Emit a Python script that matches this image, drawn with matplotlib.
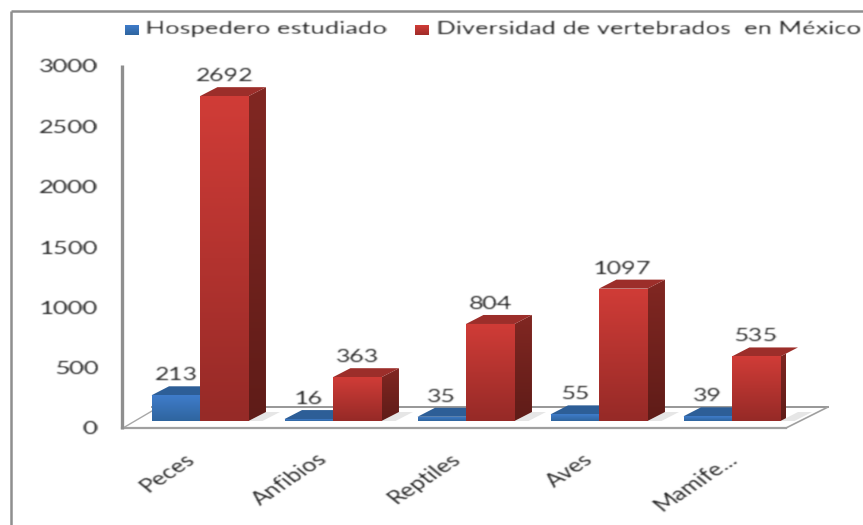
import numpy as np
import matplotlib
matplotlib.use("Agg")
import matplotlib.pyplot as plt
from matplotlib.colors import LinearSegmentedColormap
from matplotlib.patches import Polygon, Rectangle
from matplotlib.transforms import IdentityTransform, ScaledTranslation

categories = ["Peces", "Anfibios", "Reptiles", "Aves", "Mamife..."]
hospedero = [213, 16, 35, 55, 39]
diversidad = [2692, 363, 804, 1097, 535]
series_names = ["Hospedero estudiado", "Diversidad de vertebrados  en México"]
y_ticks = [0, 500, 1000, 1500, 2000, 2500, 3000]

W, H = 863, 525
DX, DY = 17.5, 9.0
TEXT = "#1e1e1e"
GRAY = "#8f8f8f"
plt.rcParams["font.family"] = ["Lato", "DejaVu Sans"]


def stretch(s, anchor="center", blur=0.35):
    """Widen the drawn text horizontally and soften it, as in the reference."""
    def f(img, dpi):
        h, w, _ = img.shape
        nw = max(int(round(w * s)), 1)
        xs = np.clip((np.arange(nw) + 0.5) / s - 0.5, 0, w - 1)
        i0 = np.floor(xs).astype(int)
        i1 = np.minimum(i0 + 1, w - 1)
        t = (xs - i0)[None, :, None]
        out = img[:, i0] * (1 - t) + img[:, i1] * t
        pad = 2
        out = np.pad(out, ((pad, pad), (pad, pad), (0, 0)))
        k = np.array([blur, 1.0, blur])
        k /= k.sum()
        out = np.apply_along_axis(lambda v: np.convolve(v, k, mode="same"), 0, out)
        out = np.apply_along_axis(lambda v: np.convolve(v, k, mode="same"), 1, out)
        ox = -(nw - w) if anchor == "right" else -(nw - w) // 2
        return np.clip(out, 0, 1), int(ox) - pad, -pad
    return f


fig = plt.figure(figsize=(W / 100, H / 100), dpi=100, facecolor="white")

# pixel-space layer for frame, floor and legend keys
bg = fig.add_axes([0, 0, 1, 1], zorder=0)
bg.set_xlim(0, W)
bg.set_ylim(H, 0)
bg.axis("off")

bg.plot([11, 11], [H, 11], color=GRAY, lw=1.8, solid_capstyle="butt")
bg.plot([11, W], [11, 11], color=GRAY, lw=1.8, solid_capstyle="butt")

bg.add_patch(Polygon([(122, 428), (152, 407), (828, 407), (786, 428)], closed=True,
                     facecolor="white", edgecolor="none"))
bg.plot([152, 828], [407, 407], color=GRAY, lw=1.3)
bg.plot([123, 152], [428, 411], color="#a8a8a8", lw=1.0)
bg.plot([786, 828], [428, 407], color="#a0a0a0", lw=1.2)
bg.plot([122, 786], [428, 428], color="#a0a0a0", lw=1.6)
bg.plot([122, 122], [65, 429], color=GRAY, lw=2.4, solid_capstyle="butt")

# main data axes: value 0 is the bar base plane
ax = fig.add_axes([122 / W, (H - 421) / H, (786 - 122) / W, 362 / H], zorder=1)
ax.patch.set_alpha(0)
for sp in ax.spines.values():
    sp.set_visible(False)
XLIM = ((122 - 200) / 133, (786 - 200) / 133)
YLIM = (0, 3000)
ax.set_xlim(*XLIM)
ax.set_ylim(*YLIM)

x = np.arange(len(categories))
width = 0.365
offset = 0.182


def grad(top, bottom):
    return LinearSegmentedColormap.from_list("g", [top, bottom])


G = np.linspace(0, 1, 64)[:, None]


def gradient_poly(verts, top, bottom, z):
    verts = np.asarray(verts, float)
    inv = ax.transData.inverted()
    (x0, y0), (x1, y1) = inv.transform([verts.min(axis=0), verts.max(axis=0)])
    im = ax.imshow(G, cmap=grad(top, bottom), extent=(x0, x1, y0, y1), origin="upper",
                   aspect="auto", zorder=z, interpolation="bilinear")
    poly = Polygon(verts, closed=True, transform=IdentityTransform())
    im.set_clip_path(poly)


def draw_series(xs, vals, front_top, front_bot, top_col, side_top, side_bot, base_z):
    bars = ax.bar(xs, vals, width, color=front_bot, linewidth=0, zorder=base_z + 0.5)
    for i, (bar, v) in enumerate(zip(bars, vals)):
        z = base_z + i * 3
        bar.set_zorder(z + 0.5)
        xl, xr = bar.get_x(), bar.get_x() + bar.get_width()
        (px0, py0), (px1, py1) = ax.transData.transform([(xl, 0), (xr, v)])
        # floor shadow
        ax.add_patch(Polygon([(px1, py0), (px1 + DX, py0 + DY), (px1 + DX + 14, py0 + DY),
                              (px1 + 14, py0)], closed=True, transform=IdentityTransform(),
                             facecolor="#e6e6e6", edgecolor="none", zorder=0.5, clip_on=False))
        # side face
        gradient_poly([(px1, py0), (px1 + DX, py0 + DY), (px1 + DX, py1 + DY), (px1, py1)],
                      side_top, side_bot, z + 0.2)
        # top face
        ax.add_patch(Polygon([(px0, py1), (px0 + DX, py1 + DY), (px1 + DX, py1 + DY), (px1, py1)],
                             closed=True, transform=IdentityTransform(), facecolor=top_col,
                             edgecolor="none", zorder=z + 0.3, clip_on=False))
        # front face
        im = ax.imshow(G, cmap=grad(front_top, front_bot), extent=(xl, xr, 0, v), origin="upper",
                       aspect="auto", zorder=z + 0.6, interpolation="bilinear")
        im.set_clip_path(bar)
    return bars


fig.canvas.draw()
blue_bars = draw_series(x - offset, hospedero, "#3f7cca", "#2f659f", "#2d5e97",
                        "#2a588e", "#24497a", 2)
red_bars = draw_series(x + offset, diversidad, "#d03c37", "#962a27", "#9c2e2a",
                       "#812722", "#5f1c18", 3)
ax.set_xlim(*XLIM)
ax.set_ylim(*YLIM)

# value labels
up = ScaledTranslation(0, 20 / 100, fig.dpi_scale_trans)
for xs, vals in ((x - offset, hospedero), (x + offset, diversidad)):
    for xi, v in zip(xs, vals):
        t = ax.text(xi, v, str(v), transform=ax.transData + up, ha="center", va="center",
                    fontsize=12.5, color=TEXT, zorder=50, clip_on=False)
        t.set_agg_filter(stretch(1.45))

# y axis tick labels
ax.set_yticks(y_ticks)
ax.set_yticklabels([str(v) for v in y_ticks], fontsize=12.5, color=TEXT)
ax.tick_params(axis="y", length=0, pad=17.5)
down = ScaledTranslation(0, -7 / 100, fig.dpi_scale_trans)
for lab in ax.get_yticklabels():
    lab.set_transform(lab.get_transform() + down)
    lab.set_agg_filter(stretch(1.48, anchor="right"))

# x axis tick labels
ax.set_xticks(x)
ax.set_xticklabels(categories, fontsize=13.5, color=TEXT, rotation=42, ha="right",
                   rotation_mode="anchor")
ax.tick_params(axis="x", length=0, pad=21)
for lab, name in zip(ax.get_xticklabels(), categories):
    lab.set_agg_filter(stretch(1.35, anchor="right"))
    shift = -3.5 if name.endswith("...") else -13.5
    lab.set_transform(lab.get_transform() +
                      ScaledTranslation(shift / 100, 0, fig.dpi_scale_trans))

# legend
for name, kx, tx, top, bot, s in ((series_names[0], 125, 267, "#3f7cca", "#2f659f", 1.47),
                                  (series_names[1], 415, 649, "#d03c37", "#a02c29", 1.46)):
    bg.imshow(G, cmap=grad(top, bot), extent=(kx, kx + 14, 35, 25), origin="upper",
              aspect="auto", interpolation="bilinear", zorder=2)
    t = bg.text(tx, 29, name, ha="center", va="center", fontsize=12.5, color=TEXT)
    t.set_agg_filter(stretch(s))
bg.set_xlim(0, W)
bg.set_ylim(H, 0)

fig.savefig("out.png", dpi=100, facecolor="white")
